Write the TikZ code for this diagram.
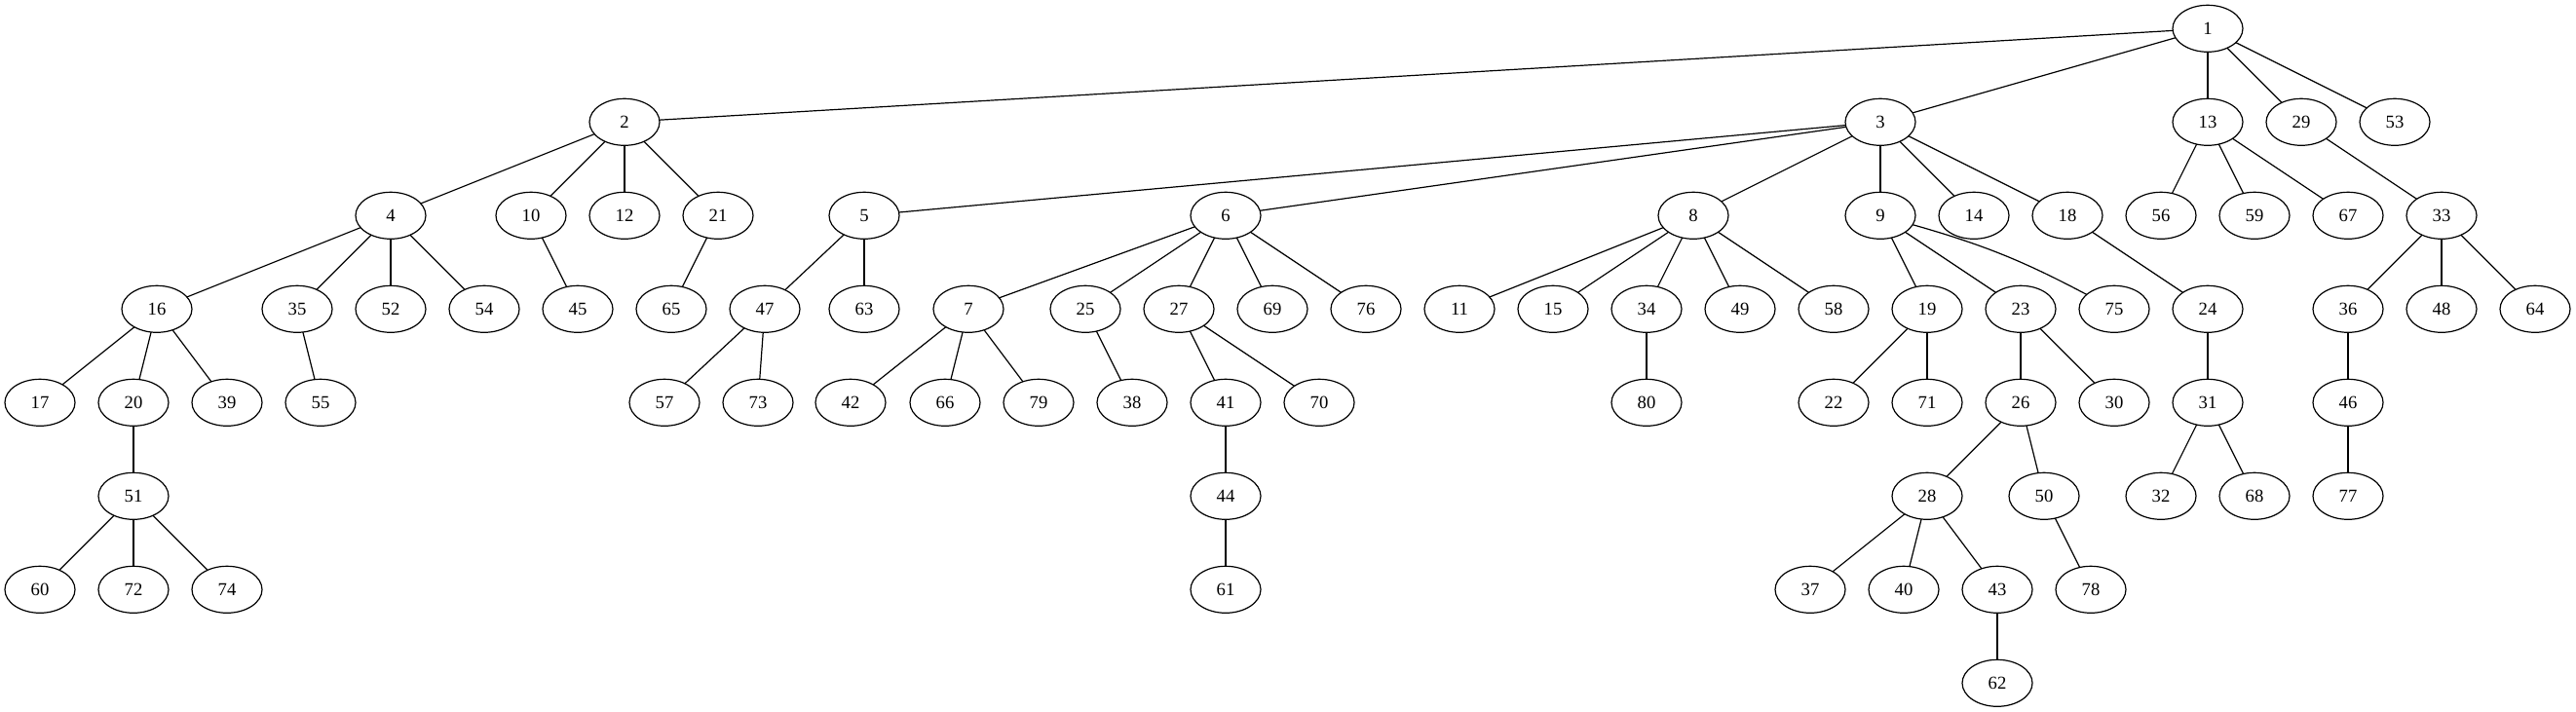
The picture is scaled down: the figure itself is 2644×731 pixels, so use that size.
\documentclass[tikz,border=0pt]{standalone}
\usepackage{fontspec}
\setmainfont{Liberation Serif}
\usetikzlibrary{shapes.geometric}
\begin{document}
\begin{tikzpicture}[x=0.75pt,y=-0.75pt,
  gv/.style={ellipse, draw, line width=0.9pt, minimum width=54pt, minimum height=36pt, inner sep=0pt, outer sep=0pt, font=\fontsize{14}{16}\selectfont},
  edge/.style={line width=0.9pt}]
\useasboundingbox (0,0) rectangle (2644,731);
\def\ra{29.3}\def\rb{125.3}\def\rc{221.3}\def\rd{317.3}\def\re{413.3}\def\rf{509.3}\def\rg{605.3}\def\rh{701.3}
% row 0
\node[gv] (n1) at (2266,\ra) {1};
% row 1
\node[gv] (n2) at (641,\rb) {2};
\node[gv] (n3) at (1930,\rb) {3};
\node[gv] (n13) at (2266,\rb) {13};
\node[gv] (n29) at (2362,\rb) {29};
\node[gv] (n53) at (2458,\rb) {53};
% row 2
\node[gv] (n4) at (401,\rc) {4};
\node[gv] (n10) at (545,\rc) {10};
\node[gv] (n12) at (641,\rc) {12};
\node[gv] (n21) at (737,\rc) {21};
\node[gv] (n5) at (887,\rc) {5};
\node[gv] (n6) at (1258,\rc) {6};
\node[gv] (n8) at (1738,\rc) {8};
\node[gv] (n9) at (1930,\rc) {9};
\node[gv] (n14) at (2026,\rc) {14};
\node[gv] (n18) at (2122,\rc) {18};
\node[gv] (n56) at (2218,\rc) {56};
\node[gv] (n59) at (2314,\rc) {59};
\node[gv] (n67) at (2410,\rc) {67};
\node[gv] (n33) at (2506,\rc) {33};
% row 3
\node[gv] (n16) at (161,\rd) {16};
\node[gv] (n35) at (305,\rd) {35};
\node[gv] (n52) at (401,\rd) {52};
\node[gv] (n54) at (497,\rd) {54};
\node[gv] (n45) at (593,\rd) {45};
\node[gv] (n65) at (689,\rd) {65};
\node[gv] (n47) at (785,\rd) {47};
\node[gv] (n63) at (887,\rd) {63};
\node[gv] (n7) at (994,\rd) {7};
\node[gv] (n25) at (1114,\rd) {25};
\node[gv] (n27) at (1210,\rd) {27};
\node[gv] (n69) at (1306,\rd) {69};
\node[gv] (n76) at (1402,\rd) {76};
\node[gv] (n11) at (1498,\rd) {11};
\node[gv] (n15) at (1594,\rd) {15};
\node[gv] (n34) at (1690,\rd) {34};
\node[gv] (n49) at (1786,\rd) {49};
\node[gv] (n58) at (1882,\rd) {58};
\node[gv] (n19) at (1978,\rd) {19};
\node[gv] (n23) at (2074,\rd) {23};
\node[gv] (n75) at (2170,\rd) {75};
\node[gv] (n24) at (2266,\rd) {24};
\node[gv] (n36) at (2410,\rd) {36};
\node[gv] (n48) at (2506,\rd) {48};
\node[gv] (n64) at (2602,\rd) {64};
% row 4
\node[gv] (n17) at (41,\re) {17};
\node[gv] (n20) at (137,\re) {20};
\node[gv] (n39) at (233,\re) {39};
\node[gv] (n55) at (329,\re) {55};
\node[gv] (n57) at (682,\re) {57};
\node[gv] (n73) at (778,\re) {73};
\node[gv] (n42) at (873,\re) {42};
\node[gv] (n66) at (970,\re) {66};
\node[gv] (n79) at (1066,\re) {79};
\node[gv] (n38) at (1162,\re) {38};
\node[gv] (n41) at (1258,\re) {41};
\node[gv] (n70) at (1354,\re) {70};
\node[gv] (n80) at (1690,\re) {80};
\node[gv] (n22) at (1882,\re) {22};
\node[gv] (n71) at (1978,\re) {71};
\node[gv] (n26) at (2074,\re) {26};
\node[gv] (n30) at (2170,\re) {30};
\node[gv] (n31) at (2266,\re) {31};
\node[gv] (n46) at (2410,\re) {46};
% row 5
\node[gv] (n51) at (137,\rf) {51};
\node[gv] (n44) at (1258,\rf) {44};
\node[gv] (n28) at (1978,\rf) {28};
\node[gv] (n50) at (2098,\rf) {50};
\node[gv] (n32) at (2218,\rf) {32};
\node[gv] (n68) at (2314,\rf) {68};
\node[gv] (n77) at (2410,\rf) {77};
% row 6
\node[gv] (n60) at (41,\rg) {60};
\node[gv] (n72) at (137,\rg) {72};
\node[gv] (n74) at (233,\rg) {74};
\node[gv] (n61) at (1258,\rg) {61};
\node[gv] (n37) at (1858,\rg) {37};
\node[gv] (n40) at (1954,\rg) {40};
\node[gv] (n43) at (2050,\rg) {43};
\node[gv] (n78) at (2146,\rg) {78};
% row 7
\node[gv] (n62) at (2050,\rh) {62};
% edges
\foreach \a/\b in {1/2,1/3,1/13,1/29,1/53,
  2/4,2/10,2/12,2/21,
  3/5,3/6,3/8,3/9,3/14,3/18,
  13/56,13/59,13/67,29/33,
  4/16,4/35,4/52,4/54,10/45,21/65,5/47,5/63,
  6/7,6/25,6/27,6/69,6/76,
  8/11,8/15,8/34,8/49,8/58,
  9/19,9/23,18/24,33/36,33/48,33/64,
  16/17,16/20,16/39,35/55,47/57,47/73,
  7/42,7/66,7/79,25/38,27/41,27/70,34/80,
  19/22,19/71,23/26,23/30,24/31,36/46,
  20/51,41/44,26/28,26/50,31/32,31/68,46/77,
  51/60,51/72,51/74,44/61,28/37,28/40,28/43,50/78,43/62}
  \draw[edge] (n\a) -- (n\b);
\draw[edge] (n9) to[bend left=6] (n75);
\end{tikzpicture}
\end{document}
